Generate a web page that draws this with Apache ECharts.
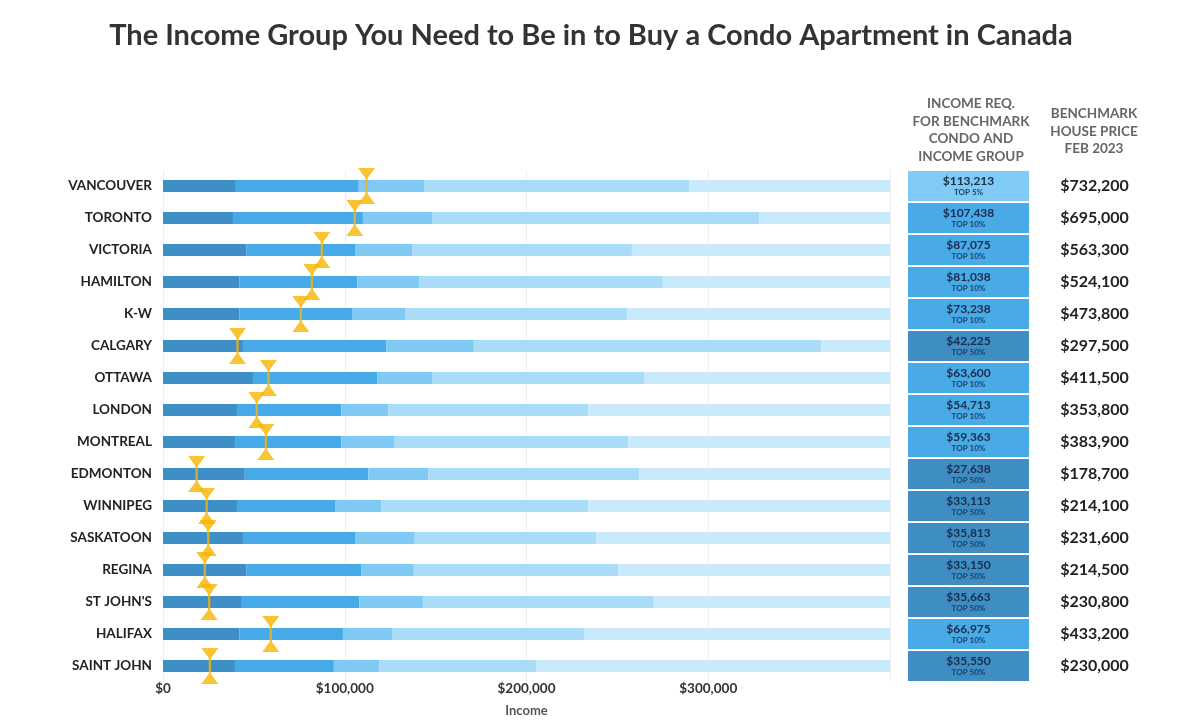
<!DOCTYPE html>
<html>
<head>
<meta charset="utf-8">
<script src="https://cdn.jsdelivr.net/npm/echarts@6/dist/echarts.min.js"></script>
<style>
  html, body { margin: 0; padding: 0; background: #fff; }
  #main { width: 1200px; height: 725px; }
</style>
</head>
<body>
<div id="main"></div>
<script>
// cities, top to bottom
var cities = ['VANCOUVER', 'TORONTO', 'VICTORIA', 'HAMILTON', 'K-W', 'CALGARY', 'OTTAWA', 'LONDON',
    'MONTREAL', 'EDMONTON', 'WINNIPEG', 'SASKATOON', 'REGINA', "ST JOHN'S", 'HALIFAX', 'SAINT JOHN'];

// income band upper edges (cumulative)
var band1 = [40100, 38500, 46000, 42000, 42000, 44000, 49500, 40700, 40000, 45000, 40700, 44000, 46000, 43400, 42000, 39600];
var band2 = [107700, 110000, 106000, 107000, 104000, 123000, 118000, 98000, 98000, 113000, 95000, 106000, 109000, 108000, 99000, 94000];
var band3 = [144000, 148000, 137000, 141000, 133500, 171000, 148000, 124000, 127500, 146000, 120000, 138500, 138000, 143000, 126000, 119000];
var band4 = [289600, 328000, 258000, 275000, 255500, 362000, 265000, 234000, 256000, 262000, 234000, 238500, 250600, 270000, 232000, 205500];
var axisMax = 400000;

// where the yellow markers sit on the income axis (as drawn)
var markerPos = [112000, 105500, 87400, 81900, 75800, 41000, 58000, 51600, 56600, 18500, 24000, 24900, 23000, 25400, 59300, 25800];

// income required for benchmark condo
var incomeReq = [113213, 107438, 87075, 81038, 73238, 42225, 63600, 54713, 59363, 27638, 33113, 35813, 33150, 35663, 66975, 35550];
var incomeGroup = ['TOP 5%', 'TOP 10%', 'TOP 10%', 'TOP 10%', 'TOP 10%', 'TOP 50%', 'TOP 10%', 'TOP 10%',
    'TOP 10%', 'TOP 50%', 'TOP 50%', 'TOP 50%', 'TOP 50%', 'TOP 50%', 'TOP 10%', 'TOP 50%'];
// benchmark house price feb 2023
var housePrice = [732200, 695000, 563300, 524100, 473800, 297500, 411500, 353800, 383900, 178700, 214100, 231600, 214500, 230800, 433200, 230000];

var xTicks = [0, 100000, 200000, 300000];

var bandColors = ['#3e8fc7', '#46aae9', '#7fcaf5', '#abdcf7', '#c9e9fc'];
var groupColors = { 'TOP 5%': '#80cbf6', 'TOP 10%': '#48abe8', 'TOP 50%': '#3e8dc3' };

function money(v) {
    return '$' + v.toLocaleString('en-US');
}

var seg = [
    band1,
    band2.map((v, i) => v - band1[i]),
    band3.map((v, i) => v - band2[i]),
    band4.map((v, i) => v - band3[i]),
    band4.map(v => axisMax - v)
];

var myChart = echarts.init(document.getElementById('main'));

var series = seg.map((d, k) => ({
    type: 'bar',
    stack: 'income',
    xAxisIndex: 0,
    yAxisIndex: 0,
    barWidth: 12,
    data: d,
    itemStyle: { color: bandColors[k] },
    silent: true
}));

// hourglass markers
series.push({
    type: 'scatter',
    xAxisIndex: 0,
    yAxisIndex: 0,
    data: markerPos,
    symbol: 'path://M0,0 L17,0 L9.7,10 L9.7,26 L17,36 L0,36 L7.3,26 L7.3,10 Z',
    symbolSize: [17, 36],
    itemStyle: { color: '#f7b500' },
    z: 5
});

// table: income req cells
series.push({
    type: 'bar',
    xAxisIndex: 1,
    yAxisIndex: 1,
    barWidth: '100%',
    data: incomeReq.map((v, i) => ({
        value: 1,
        itemStyle: { color: groupColors[incomeGroup[i]] },
        label: { formatter: '{a|' + money(v) + '}\n{b|' + incomeGroup[i] + '}' }
    })),
    itemStyle: { borderColor: '#ffffff', borderWidth: 1 },
    label: {
        show: true,
        position: 'inside',
        rich: {
            a: { fontFamily: 'Lato', fontWeight: 'bold', fontSize: 12, color: '#1b2d4b', lineHeight: 13 },
            b: { fontFamily: 'Lato', fontWeight: 'bold', fontSize: 8, color: '#1f3d5e', lineHeight: 10 }
        }
    }
});

// table: house price column
series.push({
    type: 'bar',
    xAxisIndex: 2,
    yAxisIndex: 2,
    barWidth: '100%',
    data: housePrice.map(v => ({ value: 1, label: { formatter: money(v) } })),
    itemStyle: { color: 'rgba(0,0,0,0)' },
    label: {
        show: true,
        position: 'inside',
        fontFamily: 'Lato',
        fontWeight: 'bold',
        fontSize: 16,
        color: '#222'
    }
});

var option = {
    backgroundColor: '#fff',
    animation: false,
    title: [{
        text: 'The Income Group You Need to Be in to Buy a Condo Apartment in Canada',
        left: 586,
        top: 16,
        textAlign: 'center',
        textStyle: { fontFamily: 'Lato', fontWeight: 'bold', fontSize: 29, color: '#333' }
    }, {
        text: 'INCOME REQ.\nFOR BENCHMARK\nCONDO AND\nINCOME GROUP',
        left: 966,
        top: 90,
        textAlign: 'center',
        textStyle: { fontFamily: 'Lato', fontWeight: 'bold', fontSize: 13.5, lineHeight: 17.5, color: '#666' }
    }, {
        text: 'BENCHMARK\nHOUSE PRICE\nFEB 2023',
        left: 1089,
        top: 100,
        textAlign: 'center',
        textStyle: { fontFamily: 'Lato', fontWeight: 'bold', fontSize: 13.5, lineHeight: 17.5, color: '#666' }
    }],
    grid: [
        { left: 163, right: 310, top: 170, bottom: 43 },
        { left: 907, width: 123, top: 170, bottom: 43 },
        { left: 1039, width: 111, top: 170, bottom: 43 }
    ],
    xAxis: [{
        gridIndex: 0,
        type: 'value',
        min: 0,
        max: axisMax,
        interval: 100000,
        name: 'Income',
        nameLocation: 'middle',
        nameGap: 22,
        nameTextStyle: { fontFamily: 'Lato', fontWeight: 'bold', fontSize: 13, color: '#555' },
        axisLine: { show: false },
        axisTick: { show: false },
        splitLine: { show: true, lineStyle: { color: '#eeeeee' } },
        axisLabel: {
            margin: 0,
            fontFamily: 'Lato',
            fontWeight: 'bold',
            fontSize: 13.5,
            color: '#333',
            formatter: function (v) {
                return xTicks.indexOf(v) == -1 ? '' : money(v);
            }
        }
    }, {
        gridIndex: 1, type: 'value', min: 0, max: 1, show: false
    }, {
        gridIndex: 2, type: 'value', min: 0, max: 1, show: false
    }],
    yAxis: [{
        gridIndex: 0,
        type: 'category',
        inverse: true,
        data: cities,
        axisLine: { show: false },
        axisTick: { show: false },
        axisLabel: { margin: 11, fontFamily: 'Lato', fontWeight: 'bold', fontSize: 13.5, color: '#222' }
    }, {
        gridIndex: 1, type: 'category', inverse: true, data: cities, show: false
    }, {
        gridIndex: 2, type: 'category', inverse: true, data: cities, show: false
    }],
    series: series
};
myChart.setOption(option);
</script>
</body>
</html>
